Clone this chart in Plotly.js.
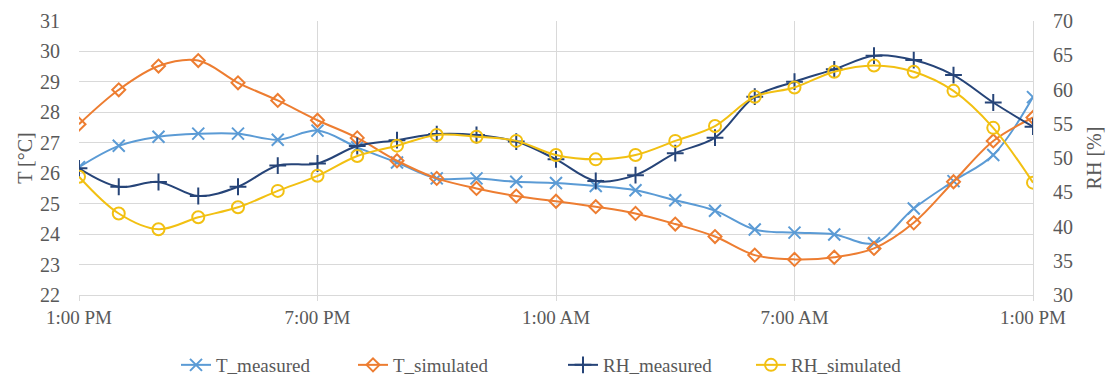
<!DOCTYPE html>
<html>
<head>
<meta charset="utf-8">
<script src="https://cdn.plot.ly/plotly-3.0.1.min.js"></script>
<style>
html,body{margin:0;padding:0;background:#fff;}
#chart{width:1109px;height:376px;}
</style>
</head>
<body>
<div id="chart"></div>
<script>
const hours = [0,1,2,3,4,5,6,7,8,9,10,11,12,13,14,15,16,17,18,19,20,21,22,23,24];
const tickHours = [0,6,12,18,24];
const tickLabels = ['1:00 PM','7:00 PM','1:00 AM','7:00 AM','1:00 PM'];
const T_measured = [26.2,26.9,27.2,27.3,27.3,27.1,27.4,26.85,26.35,25.83,25.83,25.72,25.68,25.58,25.44,25.11,24.77,24.15,24.05,23.99,23.7,24.84,25.74,26.6,28.5];
const T_simulated = [27.61,28.74,29.52,29.7,28.97,28.39,27.74,27.16,26.41,25.83,25.5,25.25,25.08,24.9,24.68,24.33,23.92,23.31,23.17,23.24,23.53,24.37,25.72,27.06,27.83];
const RH_measured = [48.5,45.8,46.5,44.45,45.8,48.9,49.2,51.75,52.6,53.5,53.36,52.4,49.8,46.64,47.5,50.7,52.97,58.95,61.14,62.94,64.94,64.3,62.1,58.1,54.57];
const RH_simulated = [47.27,41.9,39.6,41.34,42.8,45.2,47.4,50.3,51.8,53.36,53.1,52.5,50.44,49.8,50.44,52.5,54.67,58.95,60.3,62.6,63.5,62.6,59.8,54.4,46.4];

const font = "Liberation Serif";
const grey = '#595959';

function tr(name, y, axis, color, symbol, size, leg){
  return {
    x: hours, y: y, name: name, yaxis: axis, legend: leg, type: 'scatter', mode: 'lines+markers',
    line: {color: color, width: 2, shape: 'spline', smoothing: 1},
    marker: {symbol: symbol, size: size, color: color, line: {color: color, width: 2}}
  };
}

const data = [
  tr('T_measured', T_measured, 'y', '#5B9BD5', 'x-thin-open', 12, 'legend'),
  tr('T_simulated', T_simulated, 'y', '#ED7D31', 'diamond-open', 10, 'legend2'),
  tr('RH_measured', RH_measured, 'y2', '#264478', 'cross-thin-open', 12, 'legend3'),
  tr('RH_simulated', RH_simulated, 'y2', '#F2C012', 'circle-open', 12, 'legend4')
];

function leg(px){
  return {orientation: 'h', x: px/1109, xanchor: 'left', xref: 'container',
          y: 11/376, yanchor: 'middle', yref: 'container',
          font: {family: font, size: 19, color: grey}, bgcolor: 'rgba(0,0,0,0)'};
}

const layout = {
  width: 1109, height: 376,
  margin: {l: 79, r: 76, t: 21, b: 81, autoexpand: false},
  paper_bgcolor: '#fff', plot_bgcolor: '#fff',
  font: {family: font, size: 19, color: grey},
  showlegend: true,
  legend: leg(218 - 42),
  legend2: leg(395 - 42),
  legend3: leg(605 - 42),
  legend4: leg(793 - 42),
  xaxis: {range: [0, 24], tickvals: tickHours, ticktext: tickLabels,
          showgrid: true, gridcolor: '#D9D9D9', gridwidth: 1,
          showline: true, linecolor: '#D9D9D9', mirror: false,
          ticks: 'outside', ticklen: 5, tickcolor: '#D9D9D9',
          zeroline: false, tickfont: {family: font, size: 19, color: grey}},
  yaxis: {range: [22, 31], dtick: 1, showgrid: true, gridcolor: '#D9D9D9', gridwidth: 1,
          zeroline: false, showline: false, ticks: '', ticklabelstandoff: 18,
          tickfont: {family: font, size: 20, color: grey},
          title: {text: 'T [°C]', font: {family: font, size: 20, color: grey}, standoff: 2}},
  yaxis2: {range: [30, 70], dtick: 5, overlaying: 'y', side: 'right', showgrid: false,
          zeroline: false, showline: true, linecolor: '#D9D9D9', ticks: '', ticklabelstandoff: 15,
          tickfont: {family: font, size: 20, color: grey},
          title: {text: 'RH [%]', font: {family: font, size: 20, color: grey}, standoff: 14}}
};

Plotly.newPlot('chart', data, layout, {displayModeBar: false, staticPlot: true});
</script>
</body>
</html>
